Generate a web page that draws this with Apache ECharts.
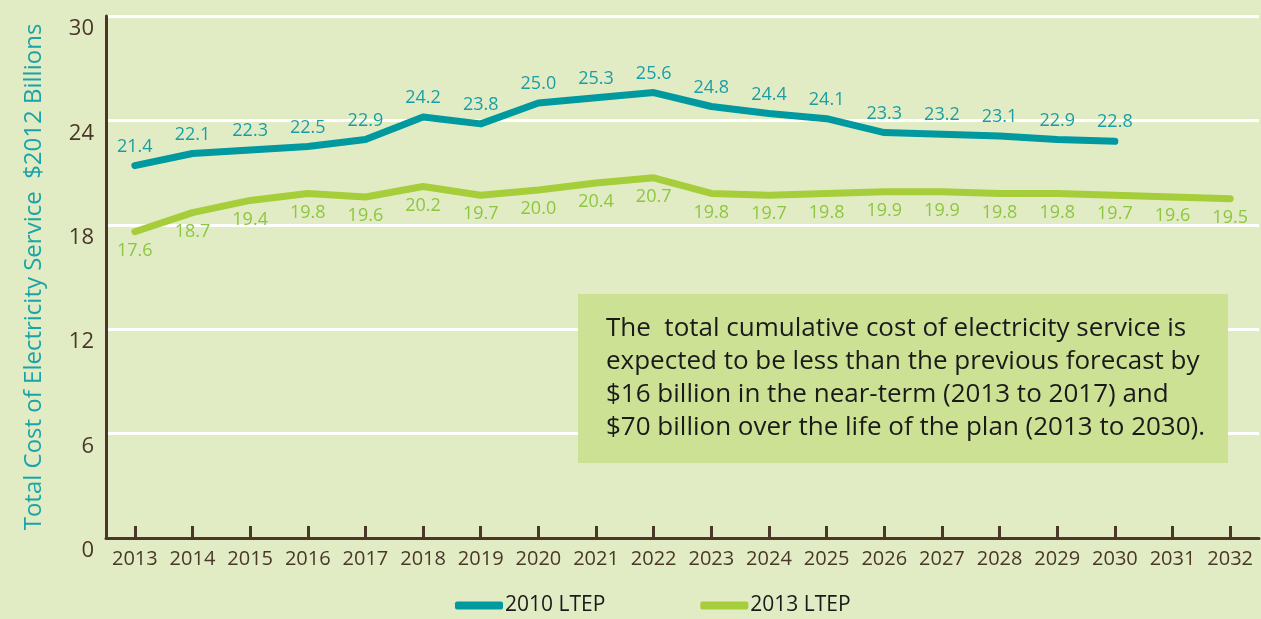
<!DOCTYPE html>
<html><head><meta charset="utf-8">
<script src="https://cdn.jsdelivr.net/npm/echarts@6/dist/echarts.min.js"></script>
<style>html,body{margin:0;padding:0;background:#e2ecc4;}#c{width:1261px;height:619px;}</style>
</head><body><div id="c"></div>
<script>
var years = ['2013','2014','2015','2016','2017','2018','2019','2020','2021','2022','2023','2024','2025','2026','2027','2028','2029','2030','2031','2032'];
var ltep2010 = [21.4,22.1,22.3,22.5,22.9,24.2,23.8,25.0,25.3,25.6,24.8,24.4,24.1,23.3,23.2,23.1,22.9,22.8,null,null];
var ltep2013 = [17.6,18.7,19.4,19.8,19.6,20.2,19.7,20.0,20.4,20.7,19.8,19.7,19.8,19.9,19.9,19.8,19.8,19.7,19.6,19.5];
var yTicks = [0,6,12,18,24,30];
var note = ['The  total cumulative cost of electricity service is','expected to be less than the previous forecast by','$16 billion in the near-term (2013 to 2017) and','$70 billion over the life of the plan (2013 to 2030).'];

var FONT = '"Open Sans", Lato, sans-serif';
var brown = '#4a3728';
var chart = echarts.init(document.getElementById('c'));
chart.setOption({
  backgroundColor: '#e2ecc4',
  animation: false,
  textStyle: {fontFamily: FONT},
  grid: {left: 106, right: 2, top: 16, bottom: 81},
  legend: {
    bottom: -2, left: 450, itemGap: 95, itemWidth: 48, itemHeight: 8,
    icon: 'roundRect',
    textStyle: {fontSize: 21, color: '#1a1a1a', fontFamily: FONT, padding: [0,0,0,-3]},
    data: ['2010 LTEP','2013 LTEP']
  },
  xAxis: {
    type: 'category', data: years, boundaryGap: true,
    axisLine: {show: true, lineStyle: {color: brown, width: 3}},
    axisTick: {show: true, alignWithLabel: true, inside: true, length: 12, interval: 0, lineStyle: {color: brown, width: 3}},
    axisLabel: {color: brown, fontSize: 20, margin: 11, interval: 0, fontFamily: FONT},
    splitLine: {show: false}
  },
  yAxis: {
    type: 'value', min: 0, max: 30, interval: 6,
    name: 'Total Cost of Electricity Service  $2012 Billions',
    nameLocation: 'middle', nameGap: 60, nameRotate: 90,
    nameTextStyle: {color: '#1aa3a8', fontSize: 24, fontFamily: FONT},
    axisLine: {show: true, lineStyle: {color: brown, width: 3}},
    axisTick: {show: false},
    axisLabel: {color: brown, fontSize: 22, margin: 12, verticalAlign: 'top', padding: [2,0,0,0],
      formatter: function(v){ return yTicks.indexOf(v) >= 0 ? String(v) : ''; }},
    splitLine: {show: true, lineStyle: {color: '#ffffff', width: 3}}
  },
  series: [
    {
      name: '2010 LTEP', type: 'line', data: ltep2010, symbol: 'circle', symbolSize: 0, showSymbol: true,
      lineStyle: {color: '#00999f', width: 7, cap: 'round', join: 'round'},
      itemStyle: {color: '#00999f'},
      label: {show: true, position: 'top', distance: 10, color: '#1a9ea5', fontSize: 18, fontFamily: FONT,
        formatter: function(p){ return p.value.toFixed(1); }}
    },
    {
      name: '2013 LTEP', type: 'line', data: ltep2013, symbol: 'circle', symbolSize: 0, showSymbol: true,
      lineStyle: {color: '#a6cd3a', width: 7, cap: 'round', join: 'round'},
      itemStyle: {color: '#a6cd3a'},
      label: {show: true, position: 'bottom', distance: 10, color: '#8dc63f', fontSize: 18, fontFamily: FONT,
        formatter: function(p){ return p.value.toFixed(1); }}
    }
  ],
  graphic: [
    {type: 'rect', left: 578, top: 294, z: 10, shape: {width: 650, height: 169}, style: {fill: '#cde195'}},
    {type: 'text', left: 606, top: 312, z: 11, style: {text: note.join('\n'), fill: '#1a1a1a', fontSize: 26, lineHeight: 33, fontFamily: FONT}}
  ]
});
</script></body></html>
